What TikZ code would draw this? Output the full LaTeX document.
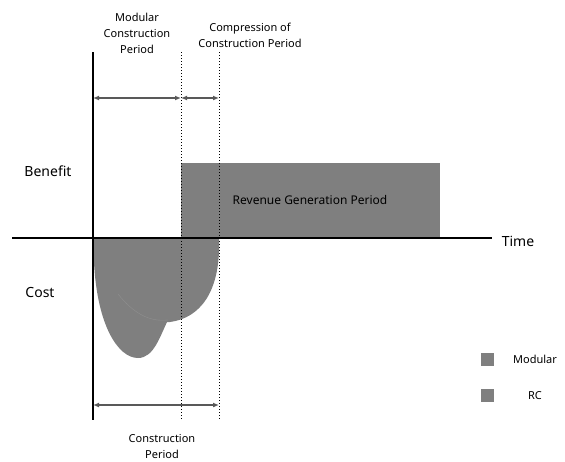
\documentclass[tikz,border=0pt]{standalone}
\usepackage{fontspec}
\setmainfont{Noto Sans}
\usetikzlibrary{arrows.meta}
\definecolor{area}{HTML}{7F7F7F}
\tikzset{
  span/.style={{Latex[length=6pt,width=5pt]}-{Latex[length=6pt,width=5pt]}, draw=black!65, line width=1.2pt},
  small/.style={font=\fontsize{11}{16}\selectfont, align=center},
  big/.style={font=\fontsize{14}{16}\selectfont},
  key/.style={fill=area, minimum size=13pt, inner sep=0pt}
}
\begin{document}
\begin{tikzpicture}[x=1pt,y=-1pt]
  \useasboundingbox (0,0) rectangle (565,461);
  % cost areas
  \fill[area] (93,238) -- (219,238) .. controls (221,292) and (200,318) .. (170,322)
    .. controls (122,327) and (97,292) .. (94,262) -- cycle;
  \fill[area] (93,238) -- (94,262) .. controls (97,325) and (118,358) .. (138,358)
    .. controls (154,358) and (160,336) .. (168,320) -- (181,238) -- cycle;
  \draw[black!44, line width=0.4pt] (118,294) .. controls (134,314) and (150,322) .. (168,320);
  % benefit area
  \draw[fill=area, draw=none]
    (181,163) rectangle (440,238)
    (310,200) node (rev) [font=\fontsize{12}{14}\selectfont] {Revenue Generation Period};
  % axes and guides
  \draw
    (93,52) coordinate (s0)
    (93,420) coordinate (e0)
    (181,52) coordinate (s1)
    (181,420) coordinate (e1)
    (219,52) coordinate (s2)
    (219,420) coordinate (e2)
    (12,238) coordinate (t0)
    (492,238) coordinate (t1);
  \begin{scope}[-]
    \draw[line width=1.1pt] (t0) to (t1);
    \draw[line width=1.1pt] (s0) to (e0);
    \draw[dotted, line width=1pt] (s1) to (e1);
    \draw[dotted, line width=1pt] (s2) to (e2);
  \end{scope}
  % spans
  \draw
    (93,98) coordinate (a0)
    (181,98) coordinate (a1)
    (219,98) coordinate (a2)
    (93,405) coordinate (b0)
    (219,405) coordinate (b2);
  \draw[span] (a0) to (a1);
  \draw[span] (a1) to (a2);
  \draw[span] (b0) to (b2);
  % labels
  \draw
    (137,33) node (mod) [small] {Modular\\Construction\\Period}
    (250,35) node (comp) [small] {Compression of\\Construction Period}
    (162,446) node (cons) [small] {Construction\\Period}
    (48,171) node (ben) [big] {Benefit}
    (40,292) node (cost) [big] {Cost}
    (518,241) node (time) [big] {Time};
  % legend
  \draw
    (487,359) node (km) [key] {}
    (487,395) node (kr) [key] {}
    (535,359) node (lm) [small] {Modular}
    (535,396) node (lr) [small] {RC};
\end{tikzpicture}
\end{document}
